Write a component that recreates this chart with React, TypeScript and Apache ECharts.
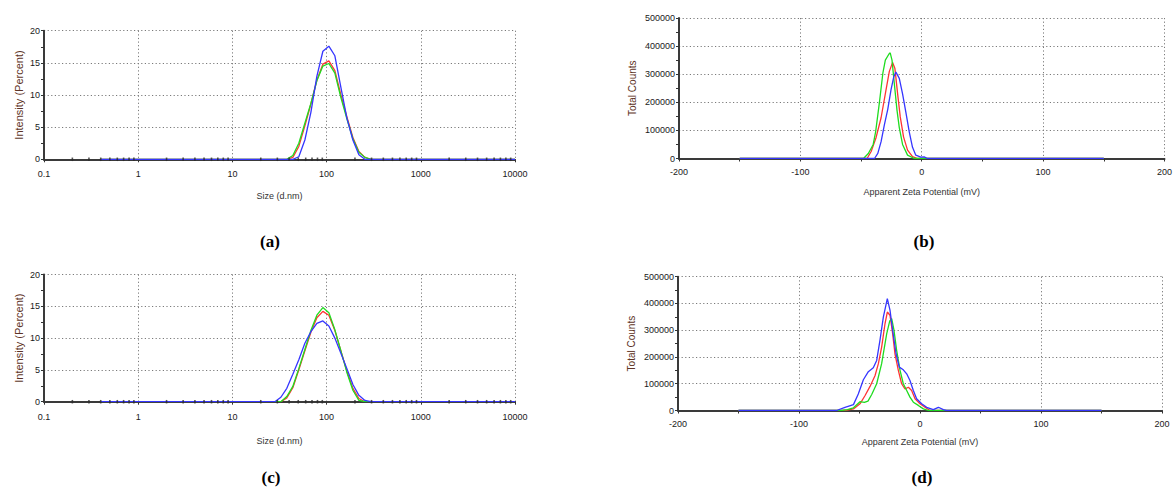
import React, { useEffect, useRef } from 'react';
import * as echarts from 'echarts';

// ---------- Size distributions (panels a, c) ----------
const sizeBins = [0.4, 28.2, 32.7, 37.8, 43.8, 50.7, 58.8, 68.1, 78.8, 91.3, 105.7, 122.4, 141.8, 164.2, 190.1, 220.2, 255.0, 295.3, 342.0, 10000];
const aRed = [0, 0, 0, 0, 0.3, 2.0, 5.2, 8.6, 12.3, 14.8, 15.3, 13.8, 10.0, 6.6, 3.4, 1.2, 0.3, 0, 0, 0];
const aGreen = [0, 0, 0, 0, 0.6, 2.5, 5.6, 8.7, 12.2, 14.5, 14.9, 13.4, 9.6, 6.3, 3.2, 1.1, 0.3, 0, 0, 0];
const aBlue = [0, 0, 0, 0, 0, 0.4, 3.0, 7.3, 12.9, 16.8, 17.6, 16.1, 11.2, 6.4, 3.0, 0.7, 0, 0, 0, 0];
const cRed = [0, 0, 0, 0.6, 2.2, 5.0, 8.0, 10.9, 13.2, 14.2, 13.6, 11.2, 8.0, 4.8, 2.1, 0.5, 0, 0, 0, 0];
const cGreen = [0, 0, 0, 0.8, 2.4, 5.2, 8.2, 11.2, 13.6, 14.8, 14.0, 11.3, 8.0, 4.6, 1.8, 0.2, 0, 0, 0, 0];
const cBlue = [0, 0, 0.7, 2.1, 4.3, 6.6, 9.2, 11.0, 12.3, 12.7, 11.9, 10.0, 7.6, 5.2, 2.7, 1.0, 0.2, 0, 0, 0];
const logMinorTicks = [0.2, 0.3, 0.4, 0.5, 0.6, 0.7, 0.8, 0.9, 2, 3, 4, 5, 6, 7, 8, 9, 20, 30, 40, 50, 60, 70, 80, 90, 200, 300, 400, 500, 600, 700, 800, 900, 2000, 3000, 4000, 5000, 6000, 7000, 8000, 9000];

// ---------- Zeta potential distributions (panels b, d) ----------
const bRedMv = [-150, -45, -41.7, -37.6, -33.5, -29.4, -26.7, -24, -22.1, -19.9, -17.7, -15, -11.7, -7.6, -3.5, 150];
const bRedCt = [0, 0, 25000, 75000, 145000, 245000, 310000, 342000, 320000, 231000, 148000, 77000, 30000, 7000, 0, 0];
const bGreenMv = [-150, -48, -44, -40, -38, -35, -32, -30, -27, -26, -24.5, -22.6, -20.4, -18.5, -15.8, -11.7, -6.2, 150];
const bGreenCt = [0, 0, 18000, 50000, 95000, 195000, 305000, 350000, 372000, 376000, 350000, 267000, 172000, 110000, 50000, 12000, 0, 0];
const bBlueMv = [-150, -38.9, -36.2, -33.5, -30.8, -28, -25.3, -23.1, -21.3, -18.5, -15.8, -13.1, -10.3, -7.6, -4.9, -0.8, 2, 4.7, 150];
const bBlueCt = [0, 0, 18000, 60000, 120000, 175000, 245000, 290000, 308000, 285000, 230000, 165000, 95000, 40000, 12000, 5000, 6000, 0, 0];

const dRedMv = [-150, -62, -55, -49.6, -45.5, -41.3, -37.2, -34.4, -31.7, -28.9, -27, -24.8, -22.6, -20.7, -17.9, -15.2, -12.4, -9.6, -6.9, -4.1, 0, 4.1, 8.3, 150];
const dRedCt = [0, 0, 6000, 25000, 55000, 90000, 130000, 175000, 237000, 325000, 368000, 356000, 287000, 212000, 150000, 100000, 81000, 87000, 75000, 44000, 25000, 12000, 0, 0];
const dGreenMv = [-150, -66, -60, -55, -49.6, -46, -43, -39.9, -35.8, -31.7, -27.5, -25, -23.4, -21.5, -19.3, -16.5, -13.8, -11, -8.3, -5.5, -1.4, 2.8, 6.9, 150];
const dGreenCt = [0, 0, 3000, 10000, 33000, 30000, 35000, 60000, 100000, 175000, 287000, 335000, 343000, 300000, 225000, 150000, 100000, 75000, 50000, 31000, 19000, 6000, 0, 0];
const dBlueMv = [-150, -69, -62, -55, -51, -46.8, -42.7, -38.6, -35.8, -33.1, -30.3, -27, -24.8, -22.6, -19.8, -17.1, -13.8, -11, -8.3, -5.5, -2.8, 1.4, 5.5, 11, 15.2, 19.3, 22, 150];
const dBlueCt = [0, 0, 12000, 22000, 62000, 115000, 145000, 160000, 187000, 262000, 349000, 418000, 375000, 300000, 212000, 162000, 152000, 137000, 112000, 75000, 44000, 25000, 12000, 3000, 12000, 3000, 0, 0];

const captions = ['(a)', '(b)', '(c)', '(d)'];

const RED = '#ff3333';
const GREEN = '#1fdc1f';
const BLUE = '#3535ff';
const FONT = '"Liberation Sans", Arial, sans-serif';

const zip = (xs: number[], ys: number[]) => xs.map((x, i) => [x, ys[i]]);

const splitStyle = { show: true, lineStyle: { color: '#7a7a7a', width: 1, type: [1.2, 2.4] } };
const axisLineStyle = { show: true, onZero: false, lineStyle: { color: '#3a3a3a', width: 2 } };
const tickLabel = (margin: number, fmt?: (v: number) => string) => ({
  color: '#1a1a1a', fontSize: 9, fontFamily: FONT, margin, formatter: fmt ?? ((v: number) => String(v)),
});

function logX(gridIndex: number, nameGap: number, labelMargin: number) {
  return {
    type: 'log', gridIndex, min: 0.1, max: 10000, logBase: 10, splitNumber: 5,
    name: 'Size (d.nm)', nameLocation: 'middle', nameGap,
    nameTextStyle: { color: '#333', fontSize: 9, fontFamily: FONT },
    axisLine: axisLineStyle,
    axisTick: { show: true, length: 3, lineStyle: { color: '#333' } },
    axisLabel: tickLabel(labelMargin, (v: number) => String(Number(v.toPrecision(4)))),
    splitLine: splitStyle,
  };
}
function zetaX(gridIndex: number, nameGap: number, labelMargin: number) {
  return {
    type: 'value', gridIndex, min: -200, max: 200, interval: 100,
    name: 'Apparent Zeta Potential (mV)', nameLocation: 'middle', nameGap,
    nameTextStyle: { color: '#333', fontSize: 9, fontFamily: FONT },
    axisLine: axisLineStyle,
    axisTick: { show: true, length: 3, lineStyle: { color: '#333' } },
    minorTick: { show: true, splitNumber: 2, length: 3, lineStyle: { color: '#333' } },
    axisLabel: tickLabel(labelMargin),
    splitLine: splitStyle,
  };
}
function intensityY(gridIndex: number) {
  return {
    type: 'value', gridIndex, min: 0, max: 20, interval: 5,
    name: 'Intensity (Percent)', nameLocation: 'middle', nameGap: 20,
    nameTextStyle: { color: '#5e3426', fontSize: 11, fontFamily: FONT },
    axisLine: axisLineStyle,
    axisTick: { show: true, length: 3, lineStyle: { color: '#333' } },
    minorTick: { show: true, splitNumber: 2, length: 3, lineStyle: { color: '#333' } },
    axisLabel: tickLabel(4),
    splitLine: splitStyle,
  };
}
function countsY(gridIndex: number) {
  return {
    type: 'value', gridIndex, min: 0, max: 500000, interval: 100000,
    name: 'Total Counts', nameLocation: 'middle', nameGap: 42,
    nameTextStyle: { color: '#5e3426', fontSize: 10, fontFamily: FONT },
    axisLine: axisLineStyle,
    axisTick: { show: true, length: 3, lineStyle: { color: '#333' } },
    minorTick: { show: true, splitNumber: 2, length: 3, lineStyle: { color: '#333' } },
    axisLabel: tickLabel(4),
    splitLine: splitStyle,
  };
}

function line(idx: number, data: number[][], color: string) {
  return {
    type: 'line', xAxisIndex: idx, yAxisIndex: idx, data, showSymbol: false, symbol: 'none',
    lineStyle: { color, width: 1.3 }, itemStyle: { color }, silent: true,
  };
}
function minorTicks(idx: number) {
  return {
    type: 'scatter', xAxisIndex: idx, yAxisIndex: idx, data: logMinorTicks.map((v) => [v, 0]),
    symbol: 'rect', symbolSize: [1.6, 3.5], itemStyle: { color: '#2a2a2a' }, z: 5, silent: true,
  };
}

export default function App() {
  const ref = useRef<HTMLDivElement>(null);
  useEffect(() => {
    if (!ref.current) return;
    const chart = echarts.init(ref.current, null, { renderer: 'svg' });
    const captionPos = [[270, 241], [924, 241], [271, 477], [922, 477]];
    chart.setOption({
      animation: false,
      backgroundColor: '#ffffff',
      grid: [
        { left: 44, top: 30.7, width: 471, height: 128.6 },
        { left: 679, top: 18, width: 490, height: 140.5 },
        { left: 44, top: 274.5, width: 471, height: 127.2 },
        { left: 678, top: 276.7, width: 484, height: 133.8 },
      ],
      xAxis: [logX(0, 32, 10), zetaX(1, 29, 9), logX(2, 35, 11), zetaX(3, 27, 9)],
      yAxis: [intensityY(0), countsY(1), intensityY(2), countsY(3)],
      series: [
        line(0, zip(sizeBins, aRed), RED),
        line(0, zip(sizeBins, aGreen), GREEN),
        line(0, zip(sizeBins, aBlue), BLUE),
        minorTicks(0),
        line(1, zip(bRedMv, bRedCt), RED),
        line(1, zip(bGreenMv, bGreenCt), GREEN),
        line(1, zip(bBlueMv, bBlueCt), BLUE),
        line(2, zip(sizeBins, cRed), RED),
        line(2, zip(sizeBins, cGreen), GREEN),
        line(2, zip(sizeBins, cBlue), BLUE),
        minorTicks(2),
        line(3, zip(dRedMv, dRedCt), RED),
        line(3, zip(dGreenMv, dGreenCt), GREEN),
        line(3, zip(dBlueMv, dBlueCt), BLUE),
      ],
      graphic: captions.map((t, i) => ({
        type: 'text', x: captionPos[i][0], y: captionPos[i][1],
        style: { text: t, font: 'bold 17px "Liberation Serif", serif', fill: '#000', align: 'center', verticalAlign: 'middle' },
      })),
    });
    return () => chart.dispose();
  }, []);
  return <div ref={ref} style={{ position: 'absolute', left: 0, top: 0, width: 1175, height: 487 }} />;
}
